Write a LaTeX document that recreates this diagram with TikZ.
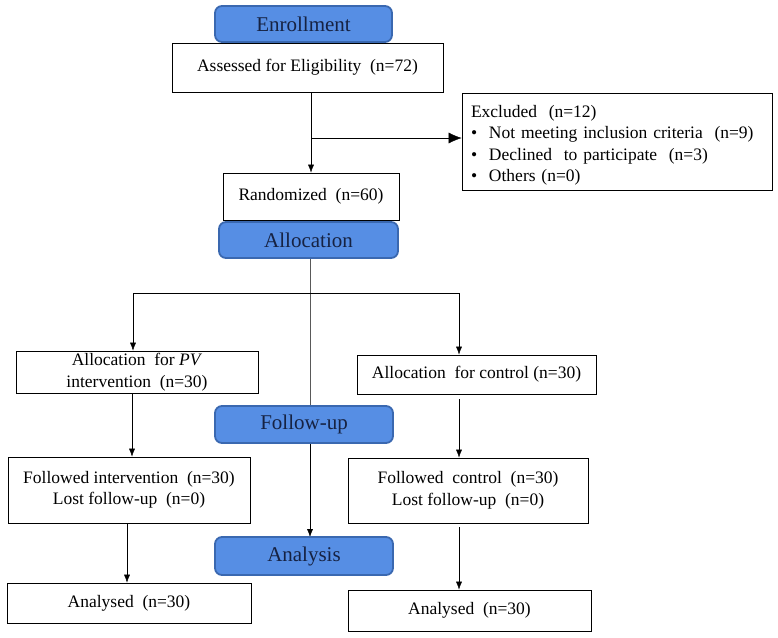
\documentclass[tikz,border=0pt]{standalone}
\usepackage{fontspec}
\setmainfont{Liberation Serif}
\usetikzlibrary{arrows.meta}
\definecolor{stagefill}{RGB}{86,142,228}
\definecolor{stageline}{RGB}{58,104,176}
\definecolor{stagetext}{RGB}{22,34,66}
\newcommand{\bul}{\makebox[18pt][l]{\textbullet}}

\begin{document}
\begin{tikzpicture}[x=1pt,y=-1pt,
  stage/.style={draw=stageline,line width=1.8pt,fill=stagefill,rounded corners=7pt,
    text=stagetext,font=\fontsize{21}{24}\selectfont,inner sep=0pt},
  box/.style={draw,line width=0.8pt,fill=white,font=\fontsize{17.5}{21.5}\selectfont,
    align=center,inner sep=0pt},
  >={Latex[length=8pt,width=6pt]}]
  \useasboundingbox (0,0) rectangle (778,637);
  \node [stage,minimum width=177,minimum height=36] (EN) at (303.5,24) {Enrollment};
  \node [box,minimum width=271,minimum height=49] (AS) at (307.5,67.5) {Assessed for Eligibility \ (n=72)};
  \node [box,minimum width=310,minimum height=97,text width=292,align=left] (EX) at (617,141.5)
    {\rule{0pt}{20pt}Excluded \ (n=12)\\ \bul Not meeting inclusion criteria \ (n=9)\\
     \bul Declined \ to participate \ (n=3)\\ \bul Others (n=0)};
  \node [box,minimum width=176,minimum height=47] (RA) at (311,196.5) {Randomized \ (n=60)};
  \node [stage,minimum width=179,minimum height=36] (AL) at (308.5,240) {Allocation};
  \node [box,minimum width=242,minimum height=42] (PV) at (137,372)
    {Allocation \ for \textit{PV}\\ intervention \ (n=30)};
  \node [box,minimum width=239,minimum height=39] (CO) at (476.5,374.5) {Allocation \ for control (n=30)};
  \node [box,minimum width=242,minimum height=66] (FI) at (129,490)
    {Followed intervention \ (n=30)\\ Lost follow-up \ (n=0)};
  \node [box,minimum width=240,minimum height=65] (FC) at (468,490.5)
    {Followed \ control \ (n=30)\\ Lost follow-up \ (n=0)};
  \node [box,minimum width=244,minimum height=40] (LA) at (129,603) {Analysed \ (n=30)};
  \node [box,minimum width=243,minimum height=41] (RN) at (469.5,610.5) {Analysed \ (n=30)};
  \coordinate (J1) at (311,138);
  \coordinate (B0) at (310,293);
  \coordinate (BL) at (133,293);
  \coordinate (BR) at (459,293);
  \coordinate (C1) at (459,399);
  \coordinate (C2) at (459,527);
  % enrollment
  \draw [->] (AS.south -| J1) -- (RA.north -| J1);
  \draw [-{Latex[length=13pt,width=11pt]}] (J1) -- (J1 -| EX.west);
  % allocation
  \draw [->] (AL.south -| B0) -- (B0) -- (310,537);
  \draw (BL) -- (BR);
  \draw [->] (BL) -- (BL |- PV.north);
  \draw [->] (BR) -- (BR |- CO.north);
  % follow-up
  \draw [->] (PV.south -| 132,0) -- (FI.north -| 132,0);
  \draw [->] (C1) -- (C1 |- FC.north);
  \node [stage,minimum width=178,minimum height=37] (FU) at (304,424.5) {Follow-up};
  % analysis
  \node [stage,minimum width=178,minimum height=38] (AN) at (304,556) {Analysis};
  \draw [->] (FI.south -| 127,0) -- (LA.north -| 127,0);
  \draw [->] (C2) -- (C2 |- RN.north);
\end{tikzpicture}
\end{document}
